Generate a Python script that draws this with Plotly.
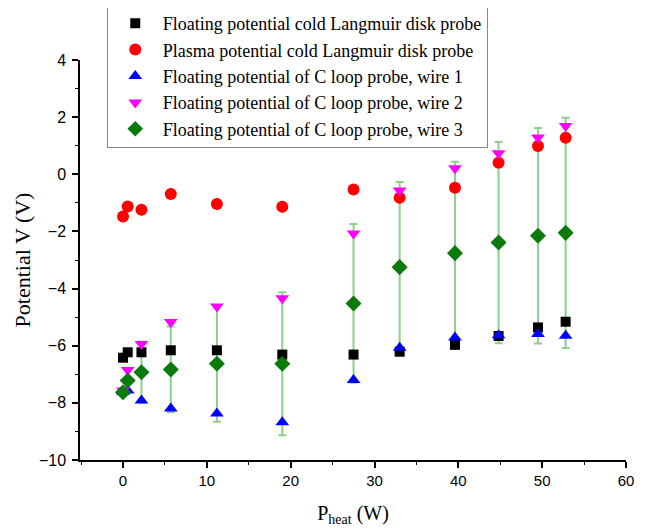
import plotly.graph_objects as go

# Data
p_heat = [0.0, 0.56, 2.2, 5.7, 11.2, 19.0, 27.5, 33.0, 39.6, 44.8, 49.5, 52.8]
float_disk = [-6.42, -6.23, -6.23, -6.16, -6.16, -6.31, -6.31, -6.21, -5.97, -5.66, -5.36, -5.16]
plasma_disk = [-1.48, -1.13, -1.24, -0.69, -1.04, -1.14, -0.53, -0.82, -0.47, 0.40, 0.99, 1.28]
wire1 = [-7.61, -7.57, -7.92, -8.20, -8.37, -8.68, -7.20, -6.07, -5.71, -5.63, -5.59, -5.65]
wire2 = [-7.57, -6.85, -5.94, -5.17, -4.63, -4.34, -2.07, -0.57, 0.21, 0.74, 1.29, 1.69]
wire3 = [-7.63, -7.22, -6.93, -6.83, -6.63, -6.63, -4.52, -3.25, -2.76, -2.39, -2.15, -2.05]
wire3_err = [0.0, 0.0, 1.07, 1.5, 2.03, 2.5, 2.78, 2.98, 3.2, 3.52, 3.77, 4.03]

names = [
    "Floating potential cold Langmuir disk probe",
    "Plasma potential cold Langmuir disk probe",
    "Floating potential of C loop probe, wire 1",
    "Floating potential of C loop probe, wire 2",
    "Floating potential of C loop probe, wire 3",
]

fig = go.Figure()

fig.add_trace(go.Scatter(
    x=p_heat, y=wire3, mode="markers", name=names[4],
    marker=dict(symbol="diamond", size=12, color="#0a7a0a"),
    error_y=dict(type="data", array=wire3_err, symmetric=True,
                 color="rgba(120,200,120,0.85)", thickness=2, width=4),
    legendrank=5,
))
fig.add_trace(go.Scatter(
    x=p_heat, y=float_disk, mode="markers", name=names[0],
    marker=dict(symbol="square", size=10, color="black"), legendrank=1,
))
fig.add_trace(go.Scatter(
    x=p_heat, y=plasma_disk, mode="markers", name=names[1],
    marker=dict(symbol="circle", size=12, color="#ff0000"), legendrank=2,
))
fig.add_trace(go.Scatter(
    x=p_heat, y=wire1, mode="markers", name=names[2],
    marker=dict(symbol="triangle-up", size=12, color="#0000ff"), legendrank=3,
))
fig.add_trace(go.Scatter(
    x=p_heat, y=wire2, mode="markers", name=names[3],
    marker=dict(symbol="triangle-down", size=12, color="#ff00ff"), legendrank=4,
))
fig.add_trace(go.Scatter(
    x=p_heat, y=wire3, mode="markers", showlegend=False,
    marker=dict(symbol="diamond", size=12, color="#0a7a0a"), hoverinfo="skip",
))

fig.update_layout(
    width=647, height=530,
    margin=dict(l=72, r=29, t=52, b=78, autoexpand=False),
    paper_bgcolor="white", plot_bgcolor="white",
    font=dict(family="Liberation Sans, Arial", color="black"),
    showlegend=True,
    legend=dict(
        x=0.049, y=1.14, xanchor="left", yanchor="top",
        bordercolor="#888888", borderwidth=1, bgcolor="white",
        font=dict(family="Liberation Serif, Times New Roman", size=18, color="black"),
        traceorder="normal", tracegroupgap=0, itemwidth=45,
    ),
    xaxis=dict(
        range=[-5.13, 60], tickmode="linear", tick0=0, dtick=10,
        showline=True, linecolor="black", linewidth=1.5, mirror=False,
        ticks="outside", ticklen=6, tickwidth=1.5, tickcolor="black",
        minor=dict(ticks="outside", ticklen=3, dtick=5, tickcolor="black", tickwidth=1),
        showgrid=False, zeroline=False, automargin=False,
        tickfont=dict(family="Liberation Sans, Arial", size=15),
        title=dict(text="P<sub>heat</sub> (W)", standoff=18,
                   font=dict(family="Liberation Serif, Times New Roman", size=20)),
    ),
    yaxis=dict(
        range=[-10, 4], tickmode="linear", tick0=0, dtick=2,
        showline=True, linecolor="black", linewidth=1.5, mirror=False,
        ticks="outside", ticklen=6, tickwidth=1.5, tickcolor="black",
        minor=dict(ticks="outside", ticklen=3, dtick=1, tickcolor="black", tickwidth=1),
        showgrid=False, zeroline=False, automargin=False, ticklabelstandoff=3,
        tickfont=dict(family="Liberation Sans, Arial", size=16),
        title=dict(text="Potential V (V)", standoff=2,
                   font=dict(family="Liberation Serif, Times New Roman", size=22)),
    ),
)

fig.write_html("out.html")
